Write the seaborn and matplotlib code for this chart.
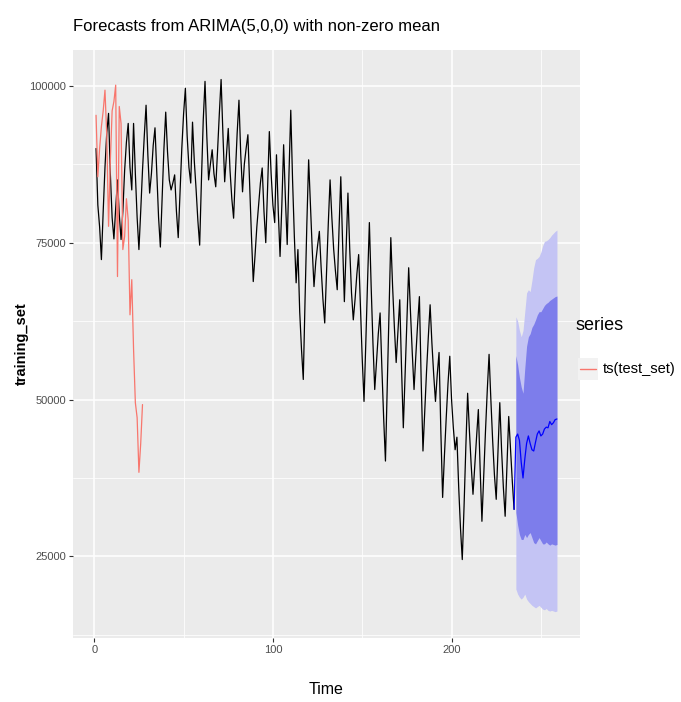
import numpy as np
import pandas as pd
import matplotlib
matplotlib.use("Agg")
import matplotlib.pyplot as plt
import seaborn as sns
from matplotlib.lines import Line2D
from matplotlib.patches import Rectangle
from matplotlib.ticker import MultipleLocator

# ---------------- data ----------------
training_set = [
    90000, 81000, 77500, 72300, 80000, 87000, 92500, 95600, 86000, 79000,
    75600, 80500, 85000, 79500, 75500, 80000, 86500, 91000, 94000, 87000,
    83400, 94000, 86000, 79000, 73900, 80000, 86500, 92000, 96900, 89000,
    82900, 86000, 90500, 93300, 86000, 79000, 74300, 82000, 90000, 95800,
    89500, 85000, 83400, 84500, 85800, 80000, 75800, 83000, 90000, 95500,
    99600, 92000, 87000, 84500, 94200, 88000, 83500, 78500, 74600, 85000,
    94500, 100700, 92000, 85000, 87500, 89800, 86000, 83900, 89500, 95500,
    101000, 92500, 84700, 89000, 93200, 86500, 82000, 78900, 86000, 92500,
    97700, 89000, 83100, 87500, 90000, 92200, 84000, 76000, 68800, 73000,
    77500, 81000, 84500, 86900, 80000, 75000, 83500, 92700, 86000, 81000,
    78200, 89000, 80000, 72800, 81000, 90600, 82000, 74700, 86000, 96100,
    85000, 76000, 68600, 73900, 64000, 58000, 53200, 66000, 78000, 88200,
    81000, 74000, 68000, 72000, 74500, 76800, 71000, 66000, 62200, 70000,
    78000, 85000, 79000, 74000, 70500, 67500, 77000, 85500, 75000, 65600,
    74000, 82900, 74000, 67000, 62700, 66000, 70000, 73100, 65000, 56500,
    49700, 59000, 69000, 78200, 68000, 59000, 51600, 56000, 60500, 63800,
    55000, 47000, 40200, 52000, 64000, 75800, 68000, 61500, 55900, 61000,
    65900, 55000, 45500, 54000, 62500, 71000, 64000, 57500, 51600, 57000,
    62000, 66400, 53000, 41800, 48000, 54500, 60000, 65100, 59000, 54000,
    49700, 54000, 57500, 45000, 34400, 41000, 47000, 52500, 56900, 50000,
    45500, 42000, 44000, 36000, 29500, 24500, 33000, 42500, 51000, 45000,
    39500, 34900, 39500, 44000, 48400, 39000, 30600, 38000, 45000, 51500,
    57200, 50000, 43500, 38000, 34100, 42000, 49500, 42000, 36000, 31400,
    39500, 47300, 42000, 37000, 32500,
]

test_set = [
    95300, 85500, 90000, 93500, 96000, 99300, 92000, 77600, 88000, 96000,
    97500, 100100, 69600, 96700, 94000, 73900, 76000, 82000, 78600, 63500,
    69100, 58000, 49500, 47100, 38400, 43000, 49200,
]

fc_mean = [
    44000, 44500, 43500, 40000, 37500, 40500, 43000, 44200, 43000, 42000,
    41800, 43200, 44500, 45000, 44200, 44500, 45300, 45600, 45500, 46500,
    46000, 46300, 46800, 46900,
]
fc_hi80 = [
    57000, 55500, 53500, 52000, 51000, 55000, 58500, 60000, 60500, 61500,
    62000, 62700, 63500, 64000, 64000, 64500, 65000, 65300, 65500, 65800,
    66000, 66200, 66400, 66500,
]
fc_lo80 = [
    32000, 30000, 28500, 27700, 27700, 28500, 28000, 28500, 28800, 28000,
    27200, 27000, 27500, 28000, 27500, 27000, 27000, 27300, 27000, 26800,
    27000, 26900, 26800, 26900,
]
fc_hi95 = [
    63200, 62500, 61000, 60000, 61000, 64000, 67000, 67500, 67200, 69000,
    71000, 72300, 72500, 72800, 73500, 74500, 75200, 75300, 75500, 75800,
    76200, 76500, 76800, 77000,
]
fc_lo95 = [
    19800, 19000, 18500, 18200, 18500, 19000, 18200, 17800, 17500, 17200,
    17000, 16800, 17000, 17200, 16900, 16600, 16500, 16700, 16400, 16300,
    16400, 16300, 16200, 16300,
]

x_ticks = [0, 100, 200]
y_ticks = [25000, 50000, 75000, 100000]

# ---------------- frames ----------------
train_df = pd.DataFrame({"Time": np.arange(1, len(training_set) + 1), "value": training_set})
test_df = pd.DataFrame({"Time": np.arange(1, len(test_set) + 1), "value": test_set})
n = len(training_set)
fc_time = np.arange(n + 1, n + 1 + len(fc_mean))
fc_df = pd.DataFrame({"Time": fc_time, "mean": fc_mean, "lo80": fc_lo80, "hi80": fc_hi80,
                      "lo95": fc_lo95, "hi95": fc_hi95})
# forecast line joined to last observation
fc_line = pd.DataFrame({"Time": np.r_[n, fc_time], "value": np.r_[training_set[-1], fc_mean]})

# ---------------- style ----------------
sns.set_theme(style="darkgrid", rc={
    "axes.facecolor": "#EBEBEB",
    "grid.color": "white",
    "axes.edgecolor": "#EBEBEB",
})
plt.rcParams["font.family"] = ["Liberation Sans", "DejaVu Sans"]

W, H = 681, 702
fig = plt.figure(figsize=(W / 100, H / 100), dpi=100)
L, R, T, B = 73, 580, 50, 638
ax = fig.add_axes([L / W, 1 - B / H, (R - L) / W, (B - T) / H])

# ribbons
ax.fill_between(fc_df["Time"], fc_df["lo95"], fc_df["hi95"], color="#C4C4F4", lw=0, zorder=2)
ax.fill_between(fc_df["Time"], fc_df["lo80"], fc_df["hi80"], color="#7D7DEB", lw=0, zorder=3)

sns.lineplot(data=train_df, x="Time", y="value", ax=ax, color="black", lw=0.9, zorder=4)
sns.lineplot(data=test_df, x="Time", y="value", ax=ax, color="#F8766D", lw=0.9, zorder=5)
sns.lineplot(data=fc_line, x="Time", y="value", ax=ax, color="#0000FF", lw=0.9, zorder=6)

ax.set_xlim(-11.9, 271.9)
ax.set_ylim(12000, 105700)
ax.set_xticks(x_ticks)
ax.set_xticklabels([str(v) for v in x_ticks])
ax.set_yticks(y_ticks)
ax.set_yticklabels([str(v) for v in y_ticks])
ax.xaxis.set_minor_locator(MultipleLocator(50))
ax.yaxis.set_minor_locator(MultipleLocator(12500))
ax.grid(which="major", color="white", lw=1.1)
ax.grid(which="minor", color="white", lw=0.55)
ax.tick_params(which="major", axis="both", length=3, width=0.8, color="#333333",
               labelsize=8, labelcolor="#4D4D4D", pad=2, bottom=True, left=True)
ax.tick_params(which="minor", length=0)
for s in ax.spines.values():
    s.set_visible(False)

ax.set_xlabel("Time", fontsize=11.5, color="black")
ax.xaxis.set_label_coords(0.5, -44 / (B - T), transform=ax.transAxes)
ax.set_ylabel("training_set", fontsize=10.5, color="black", fontweight="bold")
ax.yaxis.set_label_coords(-(L - 29) / (R - L), 0.5, transform=ax.transAxes)
ax.set_title("Forecasts from ARIMA(5,0,0) with non-zero mean", fontsize=12, loc="left",
             color="black", pad=14)

# legend (ggplot-like)
fig.text(575 / W, 1 - 325 / H, "series", fontsize=13, va="center", ha="left", color="black")
fig.add_artist(Rectangle((578 / W, 1 - 380 / H), 20 / W, 22 / H, transform=fig.transFigure,
                         facecolor="#F2F2F2", edgecolor="none"))
fig.add_artist(Line2D([580 / W, 596 / W], [1 - 369 / H, 1 - 369 / H], transform=fig.transFigure,
                      color="#F8766D", lw=1.0))
fig.text(603 / W, 1 - 369 / H, "ts(test_set)", fontsize=10.5, va="center", ha="left", color="black")

fig.savefig("out.png", dpi=100, facecolor="white")
